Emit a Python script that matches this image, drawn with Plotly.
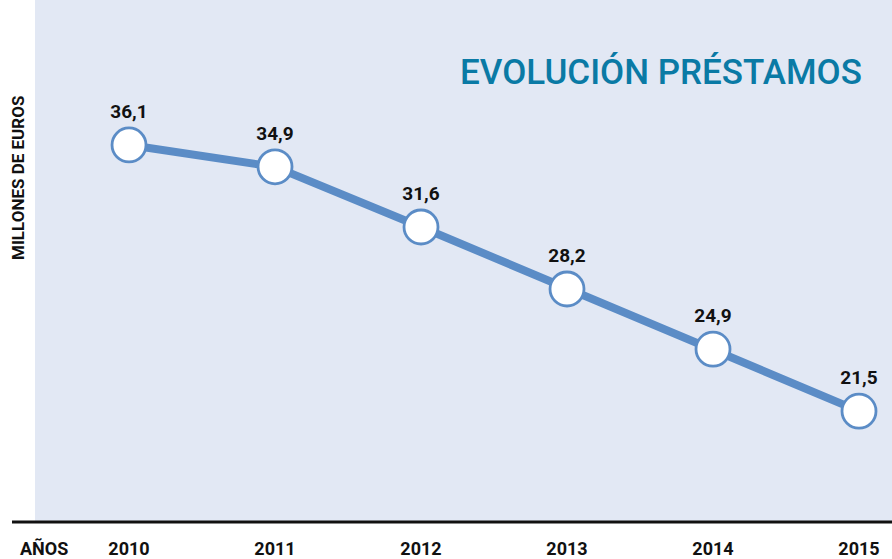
import plotly.graph_objects as go

years = [2010, 2011, 2012, 2013, 2014, 2015]
values = [36.1, 34.9, 31.6, 28.2, 24.9, 21.5]
labels = ["36,1", "34,9", "31,6", "28,2", "24,9", "21,5"]
tick_text = ["2010", "2011", "2012", "2013", "2014", "2015"]

FONT = "Roboto, Liberation Sans, sans-serif"
LINE = "#5b8cc6"
BG = "#e2e8f4"

W, H = 892, 559
L, R, T, B = 35, 0, 0, 37
pw, ph = W - L - R, H - T - B

def px(xp):
    return (xp - L) / pw

def py(yp):
    return (H - B - yp) / ph

fig = go.Figure()
fig.add_trace(go.Scatter(
    x=years, y=values, mode="lines+markers+text",
    line=dict(color=LINE, width=8),
    marker=dict(size=34, color="white", line=dict(color=LINE, width=2.8)),
    text=labels, textposition="top center",
    textfont=dict(family=FONT, size=19, color="#111111", weight="bold"),
    cliponaxis=False, hoverinfo="skip", showlegend=False,
))

fig.update_layout(
    width=W, height=H,
    margin=dict(l=L, r=R, t=T, b=B),
    paper_bgcolor="white", plot_bgcolor=BG,
    xaxis=dict(range=[2009.356, 2015.226], tickvals=years, ticktext=tick_text,
               showgrid=False, zeroline=False, showline=False,
               tickfont=dict(family=FONT, size=18, color="#111111", weight="bold"),
               ticklabelstandoff=14, fixedrange=True),
    yaxis=dict(range=[15.42, 44.05], showgrid=False, zeroline=False,
               showticklabels=False, showline=False, fixedrange=True),
    shapes=[dict(type="line", xref="paper", yref="paper",
                 x0=px(12), x1=1, y0=0, y1=0,
                 line=dict(color="#111111", width=3))],
    annotations=[
        dict(text="EVOLUCIÓN PRÉSTAMOS", xref="paper", yref="paper",
             x=px(661), y=py(72), showarrow=False, xanchor="center", yanchor="middle",
             font=dict(family=FONT, size=35, color="#0a7aa5", weight=500)),
        dict(text="MILLONES DE EUROS", xref="paper", yref="paper",
             x=px(18), y=py(178), showarrow=False, textangle=-90,
             xanchor="center", yanchor="middle",
             font=dict(family=FONT, size=17, color="#111111", weight="bold")),
        dict(text="AÑOS", xref="paper", yref="paper",
             x=px(44), y=py(548), showarrow=False, xanchor="center", yanchor="middle",
             font=dict(family=FONT, size=18, color="#111111", weight="bold")),
    ],
)

fig.write_html("out.html", post_script="document.body.style.margin='0px';",
               config={"displayModeBar": False})
